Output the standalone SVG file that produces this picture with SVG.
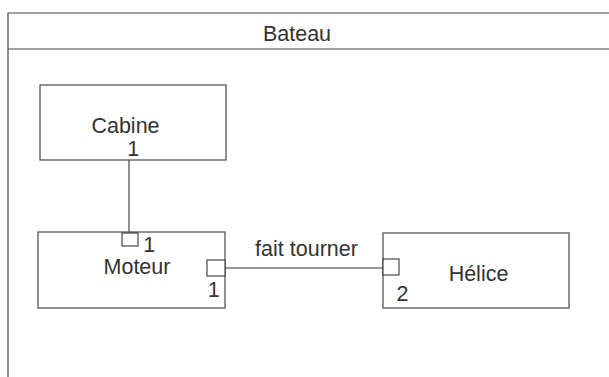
<svg xmlns="http://www.w3.org/2000/svg" width="609" height="377" viewBox="0 0 609 377">
<style>
.box{fill:#fff;stroke:#555;stroke-width:1.3}
.port{fill:#fff;stroke:#222;stroke-width:1}
.frame{fill:none;stroke:#444;stroke-width:1.2}
text{font-family:"Liberation Sans",Arial,sans-serif;font-size:21.5px;fill:#333}
.c{text-anchor:middle}
</style>
<rect width="609" height="377" fill="#fff"/>
<g id="bateau">
<path class="frame" d="M8 377V13H609M8 49H609"/>
<text class="c" x="297" y="41">Bateau</text>
</g>
<g id="connectors">
<line x1="129" y1="160" x2="129" y2="233" stroke="#222" stroke-width="1"/>
<line x1="225" y1="268" x2="383" y2="268" stroke="#777" stroke-width="1.6"/>
<text class="c" x="306.5" y="256">fait tourner</text>
</g>
<g id="cabine">
<rect class="box" x="40" y="85" width="186" height="75"/>
<text class="c" x="125.5" y="133">Cabine</text>
<text class="c" x="133.3" y="156">1</text>
</g>
<g id="moteur">
<rect class="box" x="38" y="232" width="187" height="76"/>
<rect class="port" x="122" y="233" width="16" height="13"/>
<text class="c" x="149.3" y="252">1</text>
<text class="c" x="137" y="274">Moteur</text>
<rect class="port" x="207" y="260" width="18" height="16"/>
<text class="c" x="213.7" y="297">1</text>
</g>
<g id="helice">
<rect class="box" x="383" y="233" width="186" height="75"/>
<rect class="port" x="383" y="259" width="16" height="16"/>
<text class="c" x="478.5" y="281">Hélice</text>
<text class="c" x="402.5" y="301">2</text>
</g>
</svg>
